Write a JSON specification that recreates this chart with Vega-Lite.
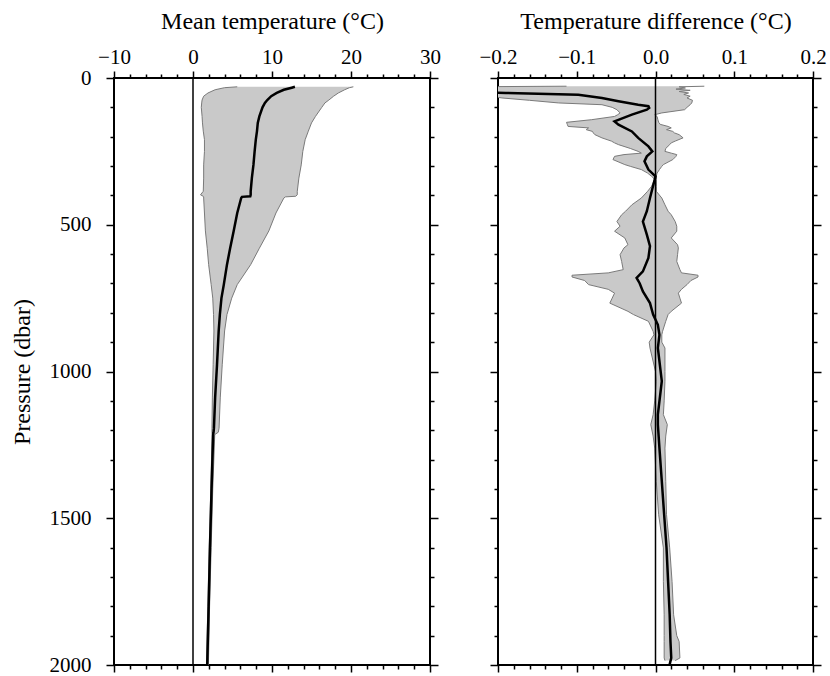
{
  "$schema": "https://vega.github.io/schema/vega-lite/v6.json",
  "background": "white",
  "padding": {"left": 9, "top": 8, "right": 0, "bottom": 0},
  "bounds": "flush",
  "spacing": 68,
  "config": {
    "view": {"stroke": "black", "strokeWidth": 2},
    "font": "Liberation Serif",
    "axis": {"labelFont": "Liberation Serif", "titleFont": "Liberation Serif", "labelFontSize": 21, "titleFontSize": 24, "titleFontWeight": "normal", "labelColor": "black", "titleColor": "black", "tickColor": "black", "tickWidth": 1.5, "domain": false, "grid": false, "labelFlush": false, "labelOverlap": false}
  },
  "datasets": {
    "left": [
      {"p": 30, "mean": 12.9, "lo": 5.6, "hi": 20.3},
      {"p": 33, "mean": 12.5, "lo": 4.0, "hi": 19.8},
      {"p": 40, "mean": 11.5, "lo": 2.8, "hi": 19.2},
      {"p": 51, "mean": 10.6, "lo": 1.9, "hi": 18.4},
      {"p": 62, "mean": 9.9, "lo": 1.35, "hi": 17.8},
      {"p": 75, "mean": 9.4, "lo": 1.15, "hi": 17.2},
      {"p": 85, "mean": 9.1, "lo": 1.1, "hi": 16.7},
      {"p": 100, "mean": 8.8, "lo": 1.05, "hi": 16.3},
      {"p": 131, "mean": 8.4, "lo": 1.15, "hi": 15.5},
      {"p": 153, "mean": 8.2, "lo": 1.2, "hi": 15.0},
      {"p": 181, "mean": 8.1, "lo": 1.3, "hi": 14.6},
      {"p": 210, "mean": 7.95, "lo": 1.45, "hi": 14.2},
      {"p": 250, "mean": 7.8, "lo": 1.45, "hi": 13.9},
      {"p": 296, "mean": 7.65, "lo": 1.35, "hi": 13.7},
      {"p": 341, "mean": 7.45, "lo": 1.35, "hi": 13.4},
      {"p": 386, "mean": 7.3, "lo": 1.3, "hi": 13.2},
      {"p": 398, "mean": 7.3, "lo": 0.95, "hi": 13.2},
      {"p": 403, "mean": 7.25, "lo": 1.3, "hi": 13.0},
      {"p": 405, "mean": 6.2, "lo": 1.35, "hi": 11.7},
      {"p": 409, "mean": 6.1, "lo": 1.35, "hi": 11.5},
      {"p": 460, "mean": 5.6, "lo": 1.45, "hi": 10.5},
      {"p": 521, "mean": 5.15, "lo": 1.57, "hi": 9.6},
      {"p": 580, "mean": 4.7, "lo": 1.8, "hi": 8.4},
      {"p": 636, "mean": 4.3, "lo": 1.98, "hi": 7.3},
      {"p": 704, "mean": 3.9, "lo": 2.3, "hi": 5.6},
      {"p": 750, "mean": 3.6, "lo": 2.5, "hi": 4.9},
      {"p": 806, "mean": 3.4, "lo": 2.6, "hi": 4.3},
      {"p": 862, "mean": 3.25, "lo": 2.65, "hi": 4.0},
      {"p": 977, "mean": 3.04, "lo": 2.55, "hi": 3.7},
      {"p": 1090, "mean": 2.8, "lo": 2.45, "hi": 3.45},
      {"p": 1193, "mean": 2.65, "lo": 2.4, "hi": 3.3},
      {"p": 1207, "mean": 2.6, "lo": 2.4, "hi": 3.2},
      {"p": 1215, "mean": 2.55, "lo": 2.42, "hi": 2.75},
      {"p": 1400, "mean": 2.35, "lo": 2.25, "hi": 2.5},
      {"p": 1600, "mean": 2.15, "lo": 2.05, "hi": 2.3},
      {"p": 1800, "mean": 1.98, "lo": 1.88, "hi": 2.1},
      {"p": 2000, "mean": 1.8, "lo": 1.7, "hi": 1.95}
    ],
    "rband": [
      {"p": 28, "lo": -0.113, "hi": 0.062},
      {"p": 30, "lo": -0.25, "hi": 0.03},
      {"p": 34, "lo": -0.25, "hi": 0.038},
      {"p": 38, "lo": -0.25, "hi": 0.026},
      {"p": 42, "lo": -0.25, "hi": 0.044},
      {"p": 46, "lo": -0.25, "hi": 0.03},
      {"p": 51, "lo": -0.25, "hi": 0.042},
      {"p": 56, "lo": -0.22, "hi": 0.036},
      {"p": 62, "lo": -0.21, "hi": 0.044},
      {"p": 68, "lo": -0.195, "hi": 0.04},
      {"p": 76, "lo": -0.16, "hi": 0.047},
      {"p": 85, "lo": -0.123, "hi": 0.046},
      {"p": 91, "lo": -0.068, "hi": 0.044},
      {"p": 100, "lo": -0.055, "hi": 0.04},
      {"p": 108, "lo": -0.049, "hi": 0.037},
      {"p": 119, "lo": -0.045, "hi": 0.008},
      {"p": 125, "lo": -0.048, "hi": -0.001},
      {"p": 131, "lo": -0.052, "hi": 0.002},
      {"p": 142, "lo": -0.081, "hi": 0.003},
      {"p": 151, "lo": -0.113, "hi": 0.004},
      {"p": 158, "lo": -0.112, "hi": 0.006},
      {"p": 165, "lo": -0.111, "hi": 0.016},
      {"p": 170, "lo": -0.085, "hi": 0.02},
      {"p": 176, "lo": -0.088, "hi": 0.014},
      {"p": 182, "lo": -0.08, "hi": 0.022},
      {"p": 187, "lo": -0.079, "hi": 0.024},
      {"p": 193, "lo": -0.077, "hi": 0.03},
      {"p": 204, "lo": -0.068, "hi": 0.035},
      {"p": 215, "lo": -0.056, "hi": 0.025},
      {"p": 221, "lo": -0.052, "hi": 0.02},
      {"p": 227, "lo": -0.047, "hi": 0.018},
      {"p": 240, "lo": -0.032, "hi": 0.013},
      {"p": 250, "lo": -0.022, "hi": 0.012},
      {"p": 256, "lo": -0.018, "hi": 0.02},
      {"p": 261, "lo": -0.04, "hi": 0.027},
      {"p": 267, "lo": -0.052, "hi": 0.026},
      {"p": 278, "lo": -0.054, "hi": 0.022},
      {"p": 295, "lo": -0.039, "hi": 0.01},
      {"p": 301, "lo": -0.032, "hi": 0.008},
      {"p": 312, "lo": -0.018, "hi": 0.005},
      {"p": 324, "lo": -0.01, "hi": 0.002},
      {"p": 335, "lo": -0.005, "hi": 0.001},
      {"p": 345, "lo": -0.001, "hi": 0.001},
      {"p": 369, "lo": -0.005, "hi": 0.001},
      {"p": 386, "lo": -0.01, "hi": 0.001},
      {"p": 409, "lo": -0.018, "hi": 0.008},
      {"p": 432, "lo": -0.03, "hi": 0.012},
      {"p": 454, "lo": -0.038, "hi": 0.016},
      {"p": 466, "lo": -0.043, "hi": 0.02},
      {"p": 489, "lo": -0.049, "hi": 0.025},
      {"p": 505, "lo": -0.045, "hi": 0.027},
      {"p": 522, "lo": -0.052, "hi": 0.027},
      {"p": 545, "lo": -0.039, "hi": 0.02},
      {"p": 568, "lo": -0.035, "hi": 0.028},
      {"p": 579, "lo": -0.04, "hi": 0.029},
      {"p": 602, "lo": -0.045, "hi": 0.028},
      {"p": 625, "lo": -0.043, "hi": 0.027},
      {"p": 653, "lo": -0.041, "hi": 0.031},
      {"p": 664, "lo": -0.06, "hi": 0.033},
      {"p": 672, "lo": -0.106, "hi": 0.054},
      {"p": 678, "lo": -0.106, "hi": 0.054},
      {"p": 690, "lo": -0.09, "hi": 0.045},
      {"p": 704, "lo": -0.085, "hi": 0.04},
      {"p": 720, "lo": -0.06, "hi": 0.033},
      {"p": 733, "lo": -0.052, "hi": 0.029},
      {"p": 750, "lo": -0.055, "hi": 0.031},
      {"p": 767, "lo": -0.058, "hi": 0.033},
      {"p": 795, "lo": -0.035, "hi": 0.02},
      {"p": 806, "lo": -0.028, "hi": 0.016},
      {"p": 829, "lo": -0.009, "hi": 0.013},
      {"p": 863, "lo": -0.003, "hi": 0.009},
      {"p": 875, "lo": -0.002, "hi": 0.008},
      {"p": 900, "lo": -0.008, "hi": 0.008},
      {"p": 920, "lo": -0.007, "hi": 0.012},
      {"p": 1000, "lo": 0.0, "hi": 0.012},
      {"p": 1033, "lo": 0.001, "hi": 0.012},
      {"p": 1100, "lo": -0.001, "hi": 0.011},
      {"p": 1147, "lo": -0.003, "hi": 0.01},
      {"p": 1181, "lo": -0.006, "hi": 0.015},
      {"p": 1220, "lo": -0.003, "hi": 0.013},
      {"p": 1261, "lo": -0.001, "hi": 0.012},
      {"p": 1374, "lo": 0.001, "hi": 0.013},
      {"p": 1488, "lo": 0.004, "hi": 0.014},
      {"p": 1601, "lo": 0.01, "hi": 0.018},
      {"p": 1715, "lo": 0.01, "hi": 0.021},
      {"p": 1829, "lo": 0.011, "hi": 0.023},
      {"p": 1900, "lo": 0.011, "hi": 0.027},
      {"p": 1920, "lo": 0.011, "hi": 0.03},
      {"p": 1976, "lo": 0.011, "hi": 0.031},
      {"p": 1985, "lo": 0.012, "hi": 0.025}
    ],
    "rmean": [
      {"p": 30, "v": -0.3},
      {"p": 47, "v": -0.25},
      {"p": 51, "v": -0.19},
      {"p": 57, "v": -0.098},
      {"p": 68, "v": -0.068},
      {"p": 79, "v": -0.047},
      {"p": 91, "v": -0.022},
      {"p": 96, "v": -0.009},
      {"p": 102, "v": -0.008},
      {"p": 108, "v": -0.011},
      {"p": 125, "v": -0.03},
      {"p": 148, "v": -0.052},
      {"p": 159, "v": -0.047},
      {"p": 182, "v": -0.03},
      {"p": 204, "v": -0.022},
      {"p": 233, "v": -0.009},
      {"p": 250, "v": -0.004},
      {"p": 267, "v": -0.011},
      {"p": 284, "v": -0.014},
      {"p": 312, "v": -0.009},
      {"p": 335, "v": 0.0},
      {"p": 346, "v": -0.001},
      {"p": 409, "v": -0.007},
      {"p": 454, "v": -0.011},
      {"p": 489, "v": -0.016},
      {"p": 534, "v": -0.011},
      {"p": 573, "v": -0.007},
      {"p": 613, "v": -0.009},
      {"p": 659, "v": -0.016},
      {"p": 681, "v": -0.024},
      {"p": 700, "v": -0.02},
      {"p": 727, "v": -0.016},
      {"p": 767, "v": -0.007},
      {"p": 806, "v": -0.003},
      {"p": 841, "v": 0.003},
      {"p": 875, "v": 0.005},
      {"p": 920, "v": 0.003},
      {"p": 1033, "v": 0.008},
      {"p": 1147, "v": 0.003},
      {"p": 1181, "v": 0.003},
      {"p": 1261, "v": 0.005},
      {"p": 1374, "v": 0.008},
      {"p": 1488, "v": 0.011},
      {"p": 1601, "v": 0.014},
      {"p": 1715, "v": 0.016},
      {"p": 1829, "v": 0.018},
      {"p": 1920, "v": 0.019},
      {"p": 1976, "v": 0.02},
      {"p": 1998, "v": 0.018}
    ],
    "zero": [{"x": 0}]
  },
  "hconcat": [
    {
      "width": 316,
      "height": 587,
      "data": {"name": "left"},
      "resolve": {"axis": {"x": "independent", "y": "independent"}},
      "layer": [
        {
          "mark": {"type": "area", "orient": "horizontal", "color": "#c9c9c9"},
          "encoding": {
            "y": {"field": "p", "type": "quantitative", "scale": {"domain": [0, 2000], "reverse": true, "nice": false, "zero": false}, "axis": {"orient": "left", "values": [0, 500, 1000, 1500, 2000], "format": "d", "tickSize": 8, "labelPadding": 15, "title": "Pressure (dbar)", "titlePadding": 15}},
            "x": {"field": "lo", "type": "quantitative", "scale": {"domain": [-10, 30], "nice": false, "zero": false}, "axis": {"orient": "top", "values": [-10, 0, 10, 20, 30], "tickSize": 7, "labelPadding": 4, "title": "Mean temperature (°C)", "titlePadding": 13}},
            "x2": {"field": "hi"}
          }
        },
        {
          "mark": {"type": "line", "color": "#7a7a7a", "strokeWidth": 1},
          "encoding": {
            "y": {"field": "p", "type": "quantitative", "scale": {"domain": [0, 2000], "reverse": true, "nice": false, "zero": false}, "axis": {"orient": "left", "values": [100, 200, 300, 400, 600, 700, 800, 900, 1100, 1200, 1300, 1400, 1600, 1700, 1800, 1900], "tickSize": 4, "labels": false, "title": null}},
            "x": {"field": "lo", "type": "quantitative", "scale": {"domain": [-10, 30], "nice": false, "zero": false}, "axis": {"orient": "top", "values": [-8, -6, -4, -2, 2, 4, 6, 8, 12, 14, 16, 18, 22, 24, 26, 28], "tickSize": 4, "labels": false, "title": null}},
            "order": {"field": "p", "type": "quantitative"}
          }
        },
        {
          "mark": {"type": "line", "color": "#7a7a7a", "strokeWidth": 1},
          "encoding": {
            "y": {"field": "p", "type": "quantitative", "scale": {"domain": [0, 2000], "reverse": true, "nice": false, "zero": false}, "axis": {"orient": "right", "values": [0, 500, 1000, 1500, 2000], "tickSize": 8, "labels": false, "title": null}},
            "x": {"field": "hi", "type": "quantitative", "scale": {"domain": [-10, 30], "nice": false, "zero": false}, "axis": {"orient": "bottom", "values": [-10, 0, 10, 20, 30], "tickSize": 7, "labels": false, "title": null}},
            "order": {"field": "p", "type": "quantitative"}
          }
        },
        {
          "data": {"name": "zero"},
          "mark": {"type": "rule", "color": "black", "strokeWidth": 1.5},
          "encoding": {"x": {"field": "x", "type": "quantitative", "axis": null}}
        },
        {
          "mark": {"type": "line", "color": "black", "strokeWidth": 2.5},
          "encoding": {
            "y": {"field": "p", "type": "quantitative", "scale": {"domain": [0, 2000], "reverse": true, "nice": false, "zero": false}, "axis": {"orient": "right", "values": [100, 200, 300, 400, 600, 700, 800, 900, 1100, 1200, 1300, 1400, 1600, 1700, 1800, 1900], "tickSize": 4, "labels": false, "title": null}},
            "x": {"field": "mean", "type": "quantitative", "scale": {"domain": [-10, 30], "nice": false, "zero": false}, "axis": {"orient": "bottom", "values": [-8, -6, -4, -2, 2, 4, 6, 8, 12, 14, 16, 18, 22, 24, 26, 28], "tickSize": 4, "labels": false, "title": null}},
            "order": {"field": "p", "type": "quantitative"}
          }
        }
      ]
    },
    {
      "width": 315,
      "height": 587,
      "data": {"name": "rband"},
      "resolve": {"axis": {"x": "independent", "y": "independent"}},
      "layer": [
        {
          "mark": {"type": "area", "orient": "horizontal", "color": "#c9c9c9", "clip": true},
          "encoding": {
            "y": {"field": "p", "type": "quantitative", "scale": {"domain": [0, 2000], "reverse": true, "nice": false, "zero": false}, "axis": {"orient": "left", "values": [0, 500, 1000, 1500, 2000], "tickSize": 8, "labels": false, "title": null}},
            "x": {"field": "lo", "type": "quantitative", "scale": {"domain": [-0.2, 0.2], "nice": false, "zero": false}, "axis": {"orient": "top", "values": [-0.2, -0.1, 0, 0.1, 0.2], "format": ".1f", "tickSize": 7, "labelPadding": 4, "title": "Temperature difference (°C)", "titlePadding": 13}},
            "x2": {"field": "hi"}
          }
        },
        {
          "mark": {"type": "line", "color": "#7a7a7a", "strokeWidth": 1, "clip": true},
          "encoding": {
            "y": {"field": "p", "type": "quantitative", "scale": {"domain": [0, 2000], "reverse": true, "nice": false, "zero": false}, "axis": {"orient": "left", "values": [100, 200, 300, 400, 600, 700, 800, 900, 1100, 1200, 1300, 1400, 1600, 1700, 1800, 1900], "tickSize": 4, "labels": false, "title": null}},
            "x": {"field": "lo", "type": "quantitative", "scale": {"domain": [-0.2, 0.2], "nice": false, "zero": false}, "axis": {"orient": "top", "values": [-0.18, -0.16, -0.14, -0.12, -0.08, -0.06, -0.04, -0.02, 0.02, 0.04, 0.06, 0.08, 0.12, 0.14, 0.16, 0.18], "tickSize": 4, "labels": false, "title": null}},
            "order": {"field": "p", "type": "quantitative"}
          }
        },
        {
          "mark": {"type": "line", "color": "#7a7a7a", "strokeWidth": 1, "clip": true},
          "encoding": {
            "y": {"field": "p", "type": "quantitative", "scale": {"domain": [0, 2000], "reverse": true, "nice": false, "zero": false}, "axis": {"orient": "right", "values": [0, 500, 1000, 1500, 2000], "tickSize": 8, "labels": false, "title": null}},
            "x": {"field": "hi", "type": "quantitative", "scale": {"domain": [-0.2, 0.2], "nice": false, "zero": false}, "axis": {"orient": "bottom", "values": [-0.2, -0.1, 0, 0.1, 0.2], "tickSize": 7, "labels": false, "title": null}},
            "order": {"field": "p", "type": "quantitative"}
          }
        },
        {
          "data": {"name": "zero"},
          "mark": {"type": "rule", "color": "black", "strokeWidth": 1.5},
          "encoding": {"x": {"field": "x", "type": "quantitative", "axis": null}}
        },
        {
          "data": {"name": "rmean"},
          "mark": {"type": "line", "color": "black", "strokeWidth": 2.5, "clip": true},
          "encoding": {
            "y": {"field": "p", "type": "quantitative", "scale": {"domain": [0, 2000], "reverse": true, "nice": false, "zero": false}, "axis": {"orient": "right", "values": [100, 200, 300, 400, 600, 700, 800, 900, 1100, 1200, 1300, 1400, 1600, 1700, 1800, 1900], "tickSize": 4, "labels": false, "title": null}},
            "x": {"field": "v", "type": "quantitative", "scale": {"domain": [-0.2, 0.2], "nice": false, "zero": false}, "axis": {"orient": "bottom", "values": [-0.18, -0.16, -0.14, -0.12, -0.08, -0.06, -0.04, -0.02, 0.02, 0.04, 0.06, 0.08, 0.12, 0.14, 0.16, 0.18], "tickSize": 4, "labels": false, "title": null}},
            "order": {"field": "p", "type": "quantitative"}
          }
        }
      ]
    }
  ]
}
